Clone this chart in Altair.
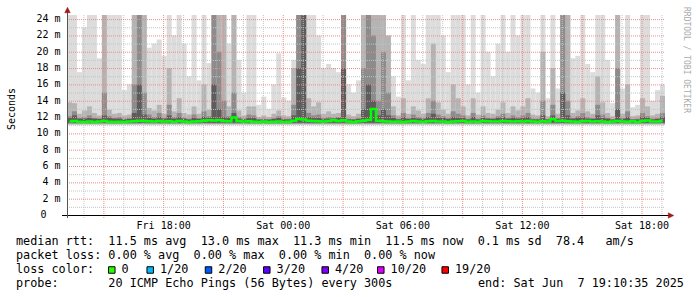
import altair as alt
import pandas as pd

# ---------------- data ----------------
start_hour = 13 + 10 / 60 + 35 / 3600          # Fri 13:10:35 (hours since Fri 00:00)
span_hours = 30
bucket_hours = 0.25

light = [24.5, 24.5, 17.5, 23.0, 24.5, 24.5, 19.2, 24.5, 24.5, 24.5,
         24.5, 15.3, 16.0, 24.5, 24.5, 24.5, 20.5, 21.0, 21.5, 19.5,
         24.5, 22.0, 24.5, 21.0, 17.0, 24.5, 16.5, 24.5, 18.6, 24.5,
         24.5, 24.5, 21.0, 24.5, 19.0, 15.0, 24.5, 24.5, 13.5, 14.5,
         13.0, 16.0, 19.8, 14.4, 14.0, 19.0, 24.5, 24.5, 24.5, 24.5,
         22.0, 18.0, 18.5, 18.0, 17.5, 24.5, 16.0, 15.0, 16.5, 24.5,
         24.5, 24.5, 24.5, 24.5, 18.0, 17.0, 14.5, 24.5, 16.5, 24.5,
         19.0, 18.5, 24.5, 24.5, 24.5, 22.0, 17.5, 24.5, 24.5, 24.5,
         16.0, 24.5, 15.0, 24.5, 20.0, 17.0, 21.0, 24.5, 20.0, 24.5,
         22.0, 24.5, 24.5, 15.5, 15.0, 24.5, 14.3, 24.5, 15.5, 24.5,
         24.5, 19.2, 19.5, 24.5, 18.5, 17.5, 24.5, 24.5, 19.0, 13.7,
         24.5, 15.5, 24.5, 13.2, 13.5, 24.5, 24.5, 14.0, 15.3, 16.0]

mid = [13.8, 13.7, 12.4, 12.8, 13.3, 12.5, 12.2, 24.5, 12.9, 12.4,
       12.5, 12.2, 12.3, 24.5, 24.5, 24.5, 13.1, 12.8, 13.5, 12.4,
       18.0, 12.7, 14.3, 12.5, 12.3, 13.3, 12.4, 16.0, 12.9, 24.5,
       24.5, 24.5, 13.3, 24.5, 12.8, 12.2, 13.3, 13.3, 12.0, 12.2,
       12.0, 12.4, 12.8, 12.2, 12.1, 18.0, 24.5, 24.5, 14.3, 13.3,
       13.8, 12.4, 12.7, 12.4, 12.5, 24.5, 12.3, 12.1, 12.4, 24.5,
       24.5, 24.5, 24.5, 24.5, 22.0, 13.3, 12.2, 14.3, 12.4, 13.3,
       12.8, 12.4, 14.3, 21.0, 13.8, 12.9, 12.4, 16.0, 14.3, 13.3,
       12.2, 14.3, 12.3, 13.3, 12.5, 12.4, 12.9, 13.8, 12.5, 13.3,
       12.8, 13.3, 14.3, 12.3, 12.2, 20.0, 12.1, 18.0, 12.4, 24.5,
       24.5, 12.5, 12.8, 14.3, 12.7, 12.4, 17.0, 13.8, 12.5, 12.1,
       24.5, 12.4, 16.0, 12.1, 12.2, 14.3, 13.3, 12.2, 12.4, 14.6]

dark = [12.1, 12.7, 11.9, 12.0, 12.2, 11.9, 11.8, 15.0, 12.1, 11.9,
        12.0, 11.8, 11.8, 16.0, 24.5, 15.0, 12.3, 12.0, 12.5, 11.9,
        13.5, 12.0, 12.5, 11.9, 11.8, 12.3, 11.8, 12.7, 12.1, 24.5,
        20.0, 14.0, 12.1, 15.0, 12.0, 11.8, 12.3, 12.2, 11.7, 11.8,
        11.7, 11.8, 12.1, 11.8, 11.8, 13.5, 24.5, 24.5, 12.5, 12.2,
        12.3, 11.8, 12.0, 11.9, 12.0, 24.5, 11.8, 11.7, 11.8, 18.0,
        24.5, 22.0, 14.0, 20.0, 15.0, 12.2, 11.8, 12.5, 11.8, 12.3,
        12.0, 11.8, 12.5, 14.0, 12.3, 12.1, 11.8, 12.7, 12.4, 12.2,
        11.8, 12.5, 11.8, 12.2, 11.9, 11.8, 12.1, 12.4, 11.9, 12.2,
        12.0, 12.2, 12.5, 11.8, 11.8, 14.0, 11.7, 13.5, 11.8, 24.5,
        14.0, 11.9, 12.1, 12.5, 12.0, 11.8, 13.5, 12.3, 11.9, 11.7,
        18.0, 11.8, 12.7, 11.7, 11.8, 12.5, 12.1, 11.8, 11.8, 12.5]

darkest = [11.9, 12.2, 11.8, 11.8, 11.9, 11.8, 11.8, 12.2, 11.9, 11.8,
           11.8, 11.7, 11.8, 12.5, 16.0, 12.3, 11.9, 11.8, 12.0, 11.8,
           12.2, 11.8, 12.0, 11.8, 11.7, 11.9, 11.8, 12.0, 11.9, 16.0,
           13.0, 12.0, 11.9, 12.5, 11.8, 11.7, 11.9, 11.9, 11.7, 11.7,
           11.7, 11.8, 11.9, 11.7, 11.7, 12.2, 18.0, 24.5, 12.0, 11.9,
           11.9, 11.8, 11.8, 11.8, 11.9, 18.0, 11.7, 11.7, 11.8, 13.0,
           16.0, 14.0, 12.2, 13.0, 12.2, 11.9, 11.7, 12.0, 11.8, 11.9,
           11.8, 11.8, 12.0, 12.4, 11.9, 11.9, 11.8, 12.0, 11.9, 11.9,
           11.7, 12.0, 11.7, 11.9, 11.8, 11.8, 11.9, 12.0, 11.8, 11.9,
           11.8, 11.9, 12.0, 11.7, 11.7, 12.2, 11.7, 12.2, 11.8, 15.0,
           12.2, 11.8, 11.9, 12.0, 11.8, 11.8, 12.2, 11.9, 11.8, 11.7,
           13.0, 11.8, 12.0, 11.7, 11.7, 12.0, 11.9, 11.7, 11.8, 12.0]

median = [11.45, 11.50, 11.42, 11.38, 11.44, 11.40, 11.46, 11.52, 11.43, 11.40,
          11.42, 11.38, 11.45, 11.48, 11.55, 11.50, 11.47, 11.44, 11.52, 11.45,
          11.48, 11.42, 11.50, 11.46, 11.40, 11.44, 11.47, 11.55, 11.60, 11.58,
          11.62, 11.50, 11.48, 11.95, 11.52, 11.45, 11.47, 11.42, 11.40, 11.44,
          11.38, 11.42, 11.45, 11.40, 11.43, 11.55, 11.75, 11.70, 11.55, 11.50,
          11.48, 11.45, 11.50, 11.60, 11.52, 11.62, 11.45, 11.40, 11.47, 11.55,
          11.65, 13.00, 11.55, 11.48, 11.45, 11.42, 11.44, 11.40, 11.46, 11.50,
          11.45, 11.42, 11.48, 11.50, 11.44, 11.46, 11.40, 11.45, 11.48, 11.50,
          11.43, 11.46, 11.42, 11.50, 11.48, 11.44, 11.45, 11.52, 11.47, 11.45,
          11.48, 11.44, 11.50, 11.46, 11.42, 11.47, 11.45, 11.72, 11.50, 11.55,
          11.48, 11.44, 11.42, 11.47, 11.50, 11.45, 11.48, 11.44, 11.40, 11.46,
          11.50, 11.45, 11.43, 11.48, 11.40, 11.52, 11.58, 11.46, 11.44, 11.50]

smoke_floor = [11.0, 11.1, 11.2, 11.3]     # lower edge of each smoke shade (ms)

y_ticks = [0, 2, 4, 6, 8, 10, 12, 14, 16, 18, 20, 22, 24]
y_minor = [1, 3, 5, 7, 9, 11, 13, 15, 17, 19, 21, 23]
x_ticks = [18, 24, 30, 36, 42]
x_major = [15, 18, 21, 24, 27, 30, 33, 36, 39, 42]
x_minor = [14, 16, 17, 19, 20, 22, 23, 25, 26, 28, 29, 31, 32, 34, 35, 37, 38, 40, 41, 43]

rtt_stats = ["11.5", "13.0", "11.3", "11.5", "0.1", "78.4"]
loss_stats = ["0.00", "0.00", "0.00", "0.00"]
loss_labels = ["0", "1/20", "2/20", "3/20", "4/20", "10/20", "19/20"]
loss_colors = ["#26ff00", "#00b8ff", "#0059ff", "#5e00ff", "#7e00ff", "#dd00ff", "#ff0000"]
probe_text = "20 ICMP Echo Pings (56 Bytes) every 300s"
end_text = "end: Sat Jun  7 19:10:35 2025"

# ---------------- layout ----------------
W, H = 598, 200
PAD = {"left": 67, "top": 15, "right": 32, "bottom": 82}
YMAX = 24.5
MONO = "DejaVu Sans Mono"
box_left_px = [108.3, 146.7, 205.0, 263.3, 321.7, 377.3, 441.7]   # page x of legend boxes

n = len(light)
df = pd.DataFrame({
    "t0": [start_hour + i * bucket_hours for i in range(n)],
    "t1": [start_hour + (i + 1) * bucket_hours for i in range(n)],
    "tm": [start_hour + (i + 0.5) * bucket_hours for i in range(n)],
    "light": light, "mid": mid, "dark": dark, "darkest": darkest, "median": median,
})
for k, f in zip(["b_light", "b_mid", "b_dark", "b_darkest"], smoke_floor):
    df[k] = f

xs = alt.Scale(domain=[start_hour, start_hour + span_hours], nice=False, zero=False)
ys = alt.Scale(domain=[0, YMAX], nice=False, zero=True)

x_axis = alt.Axis(values=x_ticks, title=None, domain=False, ticks=False, grid=False,
                  labelFont=MONO, labelFontSize=10, labelColor="#000000", labelPadding=5,
                  labelFlush=False, labelOverlap=False, labelBound=False,
                  labelExpr="(datum.value < 24 ? 'Fri ' : 'Sat ') + "
                            "((datum.value % 24) < 10 ? '0' : '') + (datum.value % 24) + ':00'")


def X(field):
    return alt.X(field, scale=xs, axis=x_axis)


def Y(field):
    return alt.Y(field, scale=ys, axis=None)


base = alt.Chart(df)
shades = [("light", "b_light", "#dcdcdc"), ("mid", "b_mid", "#b4b4b4"),
          ("dark", "b_dark", "#8c8c8c"), ("darkest", "b_darkest", "#5c5c5c")]
layers = []
for top, bot, col in shades:
    layers.append(base.mark_rect(color=col).encode(
        x=X("t0:Q"), x2="t1:Q", y=Y(f"{bot}:Q"), y2=f"{top}:Q"))


# grid
def vgrid(vals, color):
    d = pd.DataFrame({"h": vals})
    return alt.Chart(d).mark_rule(color=color, strokeDash=[1, 1], strokeWidth=1, xOffset=0.5).encode(
        x=X("h:Q"), y=alt.value(0), y2=alt.value(H + 3))


def hgrid(vals, color):
    d = pd.DataFrame({"v": vals})
    return alt.Chart(d).mark_rule(color=color, strokeDash=[1, 1], strokeWidth=1, yOffset=0.5).encode(
        y=Y("v:Q"), x=alt.value(0), x2=alt.value(W))


layers += [vgrid(x_minor, "#c4c4c4"), hgrid(y_minor, "#c4c4c4"),
           vgrid(x_major, "#ec8c8c"), hgrid(y_ticks[1:], "#ec8c8c")]

# median line
layers.append(base.mark_line(color="#00ff00", strokeWidth=2.5, interpolate="step").encode(
    x=X("tm:Q"), y=Y("median:Q")))

# y tick labels
ylab = pd.DataFrame({"v": y_ticks})
ylab["t"] = [("%d\u00a0m" % v) if v else "0" for v in y_ticks]
layers.append(alt.Chart(ylab[ylab.v > 0]).mark_text(
    font=MONO, fontSize=10, color="#000000", align="right", baseline="middle").encode(
    text="t:N", y=Y("v:Q"), x=alt.value(-6.5)))
layers.append(alt.Chart(ylab[ylab.v == 0]).mark_text(
    font=MONO, fontSize=10, color="#000000", align="right", baseline="middle").encode(
    text="t:N", y=Y("v:Q"), x=alt.value(-20.5)))

one = pd.DataFrame({"k": [0]})
# axis lines
layers.append(alt.Chart(one).mark_rule(color="#000000", strokeWidth=1).encode(
    x=alt.value(-5), x2=alt.value(W + 4), y=alt.value(H + 0.5)))
layers.append(alt.Chart(one).mark_rule(color="#555555", strokeWidth=1).encode(
    x=alt.value(0.5), y=alt.value(-5), y2=alt.value(H + 3)))
# arrows
layers.append(alt.Chart(one).mark_point(shape="M0,-1L1,1L-1,1Z", filled=True, fill="#9b1c1c",
                                        stroke="#9b1c1c", strokeWidth=0.5, size=30, opacity=1).encode(
    x=alt.value(0.5), y=alt.value(-5)))
layers.append(alt.Chart(one).mark_point(shape="M-1,-1L1,0L-1,1Z", filled=True, fill="#9b1c1c",
                                        stroke="#9b1c1c", strokeWidth=0.5, size=30, opacity=1).encode(
    x=alt.value(W + 6), y=alt.value(H + 0.5)))


def label(txt, px, py, size=11.8, color="#000000", angle=0, align="left", baseline="alphabetic",
          font=MONO):
    d = pd.DataFrame({"t": [txt.replace(" ", "\u00a0")]})
    return alt.Chart(d).mark_text(font=font, fontSize=size, color=color, angle=angle,
                                  align=align, baseline=baseline).encode(
        text="t:N", x=alt.value(px), y=alt.value(py))


ox, oy = PAD["left"], PAD["top"]
layers.append(label("Seconds", 12 - ox, 109 - oy, size=10, angle=270, align="center",
                    baseline="middle"))
layers.append(label("RRDTOOL / TOBI OETIKER", 686 - ox, 60 - oy, size=8, color="#aaaaaa",
                    angle=90, align="center", baseline="middle"))

line1 = ("median rtt:  {} ms avg  {} ms max  {} ms min  {} ms now  {} ms sd  {}   am/s"
         .format(*rtt_stats))
line2 = "packet loss: {} % avg  {} % max  {} % min  {} % now".format(*loss_stats)
layers.append(label(line1, 16 - ox, 245 - oy))
layers.append(label(line2, 16 - ox, 259 - oy))
layers.append(label("loss color:", 16 - ox, 273 - oy))
layers.append(label("probe:       " + probe_text, 16 - ox, 287 - oy))
layers.append(label(end_text, 478 - ox, 287 - oy))

for bx, lab, col in zip(box_left_px, loss_labels, loss_colors):
    layers.append(alt.Chart(one).mark_square(color=col, size=42, filled=True, opacity=1,
                                             stroke="#000000", strokeWidth=1).encode(
        x=alt.value(bx + 3.5 - ox), y=alt.value(270 - oy)))
    layers.append(label(lab, bx + 13.3 - ox, 273 - oy))

chart = alt.layer(*layers).properties(
    width=W, height=H,
    autosize=alt.AutoSizeParams(type="none"),
    padding=PAD,
    background="#ffffff",
).configure_view(stroke=None)

chart.save("out.html", embed_options={"renderer": "svg", "actions": False})
